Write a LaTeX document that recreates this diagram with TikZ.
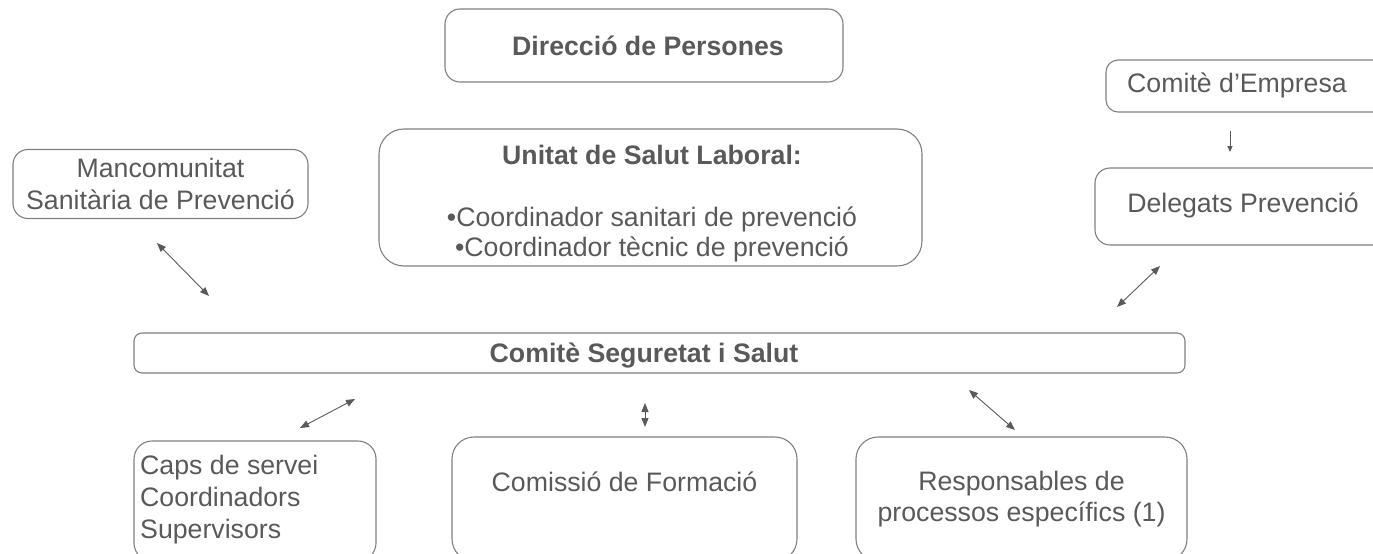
\documentclass[tikz,border=0pt]{standalone}
\usepackage{fontspec}
\setmainfont{Liberation Sans}
\usetikzlibrary{arrows.meta}
\definecolor{textgray}{HTML}{595959}
\definecolor{bordergray}{HTML}{808080}
\definecolor{arrowgray}{HTML}{5A5A5A}
\begin{document}
\begin{tikzpicture}[x=1pt,y=-1pt,
  box/.style={draw=bordergray, line width=1.1pt, rounded corners=#1, inner sep=0pt},
  box/.default=15pt,
  txt/.style={text=textgray, font=\fontsize{26.7}{31}\selectfont, inner sep=0pt, anchor=base},
  btxt/.style={txt, font=\fontsize{26.7}{31}\selectfont\bfseries},
  conn/.style={draw=arrowgray, line width=0.9pt, {Triangle[length=9pt,width=7pt]}-{Triangle[length=9pt,width=7pt]}},
  oneway/.style={draw=arrowgray, line width=0.9pt, -{Triangle[length=6pt,width=5pt]}}]
\useasboundingbox (0,0) rectangle (1373,554);
\clip (0,0) rectangle (1373,554);
% boxes
\node[box, minimum width=398pt, minimum height=73pt] (dir) at (644,45.5) {};
\node[box=25pt, minimum width=543pt, minimum height=137pt] (usl) at (650.5,197.5) {};
\node[box, minimum width=295pt, minimum height=69pt] (manc) at (160.5,184) {};
\node[box=12pt, minimum width=300pt, minimum height=52pt] (ce) at (1256,86) {};
\node[box=15pt, minimum width=310pt, minimum height=77pt] (del) at (1250,206.5) {};
\node[box=8pt, minimum width=1051pt, minimum height=40pt] (css) at (659.5,353) {};
\node[box=18pt, minimum width=242pt, minimum height=120pt] (caps) at (255,501) {};
\node[box=22pt, minimum width=345pt, minimum height=124pt] (cf) at (624.5,499) {};
\node[box=22pt, minimum width=331pt, minimum height=124pt] (resp) at (1021.5,499) {};
% texts
\node[btxt] (tdir) at (648,55) {Direcció de Persones};
\node[btxt] (tusl) at (652,164) {Unitat de Salut Laboral:};
\node[txt] (tusl1) at (652,226) {•Coordinador sanitari de prevenció};
\node[txt] (tusl2) at (652,256) {•Coordinador tècnic de prevenció};
\node[txt] (tmanc1) at (160.5,177) {Mancomunitat};
\node[txt] (tmanc2) at (160.5,209) {Sanitària de Prevenció};
\node[txt] (tce) at (1237,92) {Comitè d’Empresa};
\node[txt] (tdel) at (1243,212) {Delegats Prevenció};
\node[btxt] (tcss) at (644,362) {Comitè Seguretat i Salut};
\node[txt, anchor=base west] (tcaps1) at (140,474) {Caps de servei};
\node[txt, anchor=base west] (tcaps2) at (140,506) {Coordinadors};
\node[txt, anchor=base west] (tcaps3) at (140,538) {Supervisors};
\node[txt] (tcf) at (624.5,491) {Comissió de Formació};
\node[txt] (tresp1) at (1021.5,490) {Responsables de};
\node[txt] (tresp2) at (1021.5,521) {processos específics (1)};
% connector ends
\coordinate (a1s) at (157,243); \coordinate (a1e) at (209,296);
\coordinate (a2s) at (1160,266); \coordinate (a2e) at (1117,307);
\coordinate (a3s) at (1230,131); \coordinate (a3e) at (1230,152);
\coordinate (a4s) at (355,399); \coordinate (a4e) at (300,428);
\coordinate (a5s) at (645,403); \coordinate (a5e) at (645,427);
\coordinate (a6s) at (969,390); \coordinate (a6e) at (1015,430);
\draw[conn] (a1s) -- (a1e);
\draw[conn] (a2s) -- (a2e);
\draw[oneway] (a3s) -- (a3e);
\draw[conn] (a4s) -- (a4e);
\draw[conn] (a5s) -- (a5e);
\draw[conn] (a6s) -- (a6e);
\end{tikzpicture}
\end{document}
